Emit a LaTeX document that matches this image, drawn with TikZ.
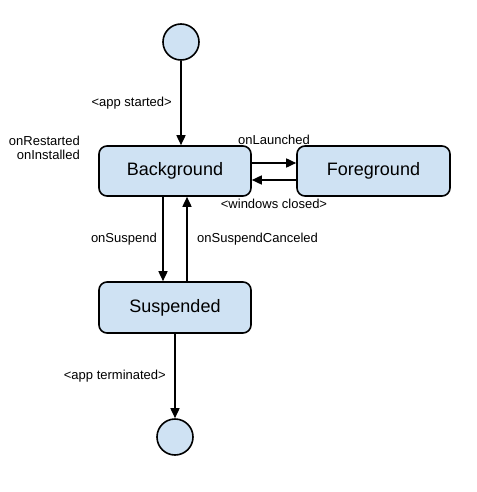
\documentclass[tikz,border=0pt]{standalone}
\usepackage{fontspec}
\setmainfont{Liberation Sans}
\usepackage{tikz}
\usetikzlibrary{arrows.meta,positioning,calc}
\usepackage{xcolor}
\definecolor{estadoazul}{HTML}{CFE2F3}

\begin{document}
\begin{tikzpicture}[x=1pt, y=-1pt,
        estado/.style={draw, line width=1.6pt, rounded corners=8pt, fill=estadoazul, minimum width=152pt, minimum height=50pt, font=\fontsize{18}{20}\selectfont},
        ponto/.style={draw, line width=1.6pt, circle, fill=estadoazul, minimum size=36pt, inner sep=0pt},
        rotulo/.style={font=\fontsize{13}{14}\selectfont, inner sep=0pt},
        seta/.style={-{Triangle[length=10pt, width=9pt]}, line width=1.6pt}
    ]
        \useasboundingbox (0,0) rectangle (476,492);

        \node[ponto] (inicio) at (181,42) {};
        \node[estado] (bg) at (175,171) {Background};
        \node[estado, minimum width=153pt] (fg) at (373.5,171) {Foreground};
        \node[estado, minimum height=51pt] (susp) at (175,307.5) {Suspended};
        \node[ponto] (fim) at (175,437) {};

        \draw[seta] (inicio) -- (inicio |- bg.north);
        \draw[seta] ([yshift=8pt]bg.east) -- ([yshift=8pt]fg.west);
        \draw[seta] ([yshift=-9pt]fg.west) -- ([yshift=-9pt]bg.east);
        \draw[seta] ([xshift=-12pt]bg.south) -- ([xshift=-12pt]susp.north);
        \draw[seta] ([xshift=12pt]susp.north) -- ([xshift=12pt]bg.south);
        \draw[seta] (susp) -- (fim);

        \node[rotulo, anchor=east] (lbliniciado) at (172,103) {<app started>};
        \node[rotulo, anchor=east, align=right] (lblinstalado) at (80,148) {onRestarted\\onInstalled};
        \node[rotulo] (lbllancado) at (274,140) {onLaunched};
        \node[rotulo] (lblfechado) at (274,204) {<windows closed>};
        \node[rotulo, anchor=east] (lblsuspender) at (157,239) {onSuspend};
        \node[rotulo, anchor=west] (lblcancelado) at (197,239) {onSuspendCanceled};
        \node[rotulo, anchor=east] (lblterminado) at (166,376) {<app terminated>};

    \end{tikzpicture}
\end{document}
